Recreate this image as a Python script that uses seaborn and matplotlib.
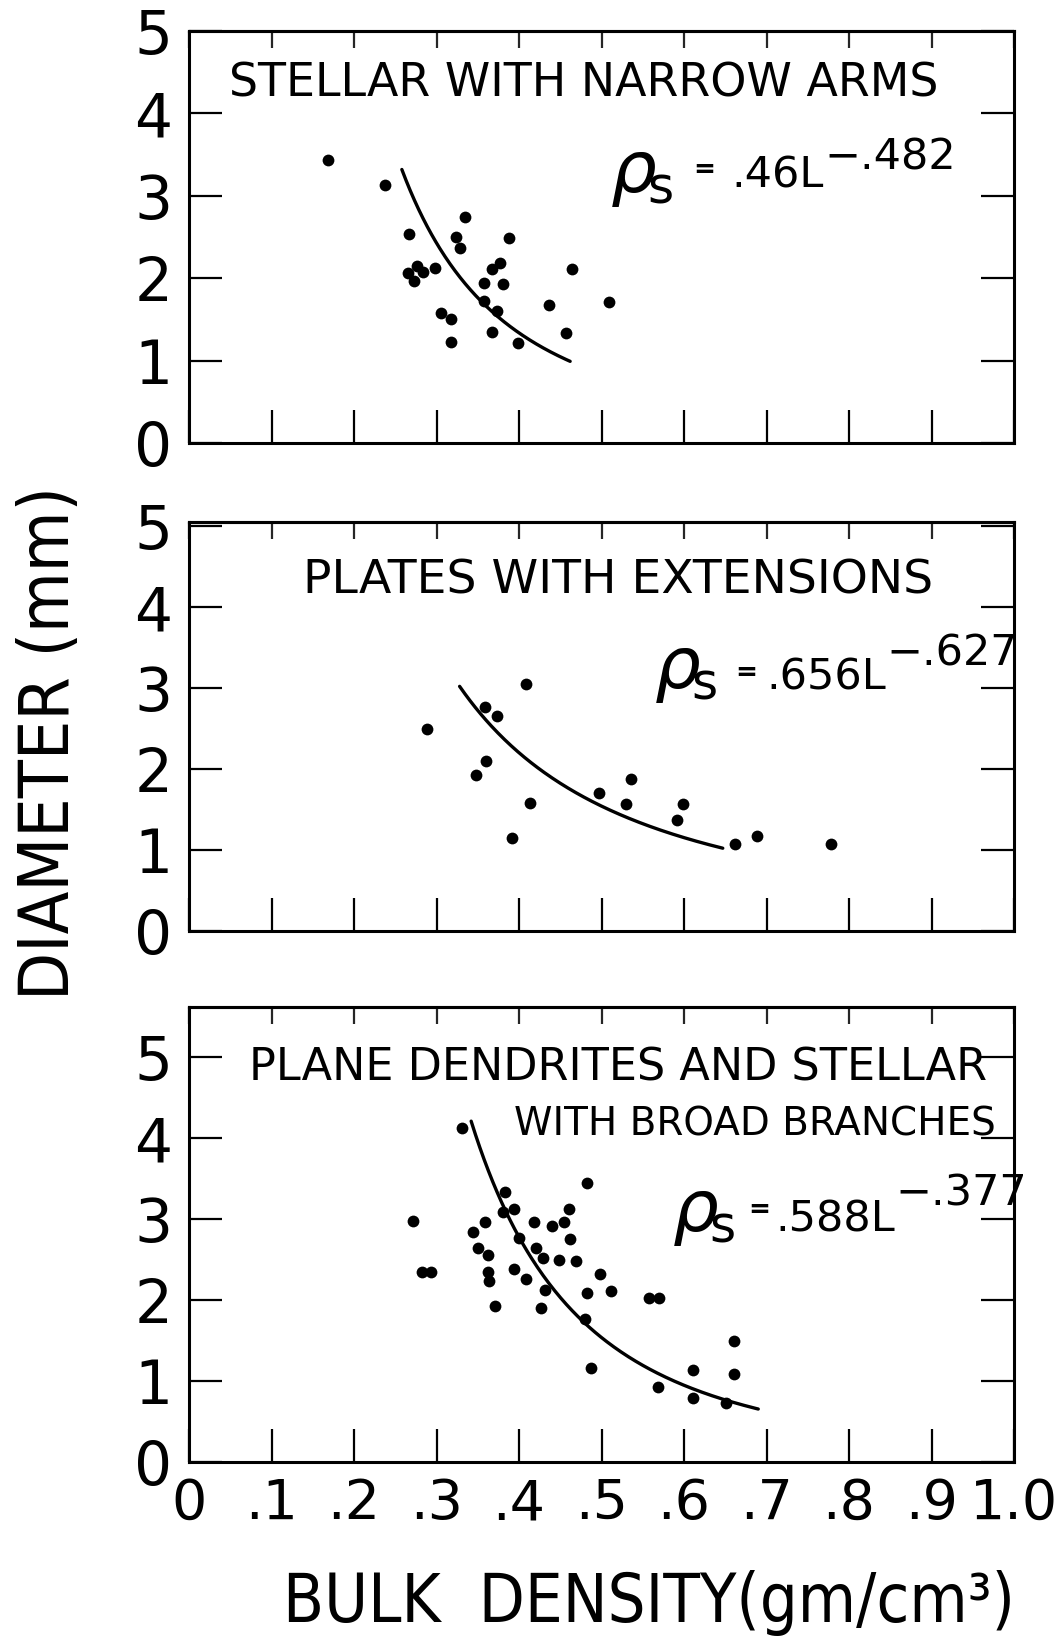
import os
import numpy as np
import pandas as pd
import matplotlib
matplotlib.use("Agg")
import matplotlib.pyplot as plt
from matplotlib import font_manager as fm
from matplotlib.font_manager import FontProperties
import seaborn as sns

# ---------------- data ----------------
stellar_density = [0.168, 0.238, 0.267, 0.334, 0.324, 0.328, 0.388, 0.265, 0.276, 0.273,
                   0.284, 0.298, 0.377, 0.367, 0.358, 0.381, 0.464, 0.357, 0.373, 0.306,
                   0.318, 0.436, 0.509, 0.367, 0.318, 0.399, 0.457]
stellar_diameter = [3.44, 3.13, 2.54, 2.74, 2.50, 2.37, 2.49, 2.06, 2.15, 1.96,
                    2.08, 2.12, 2.19, 2.11, 1.94, 1.93, 2.11, 1.72, 1.60, 1.58,
                    1.50, 1.67, 1.71, 1.35, 1.23, 1.21, 1.33]

plates_density = [0.289, 0.409, 0.359, 0.373, 0.360, 0.348, 0.413, 0.391, 0.497, 0.536,
                  0.530, 0.599, 0.591, 0.662, 0.689, 0.778]
plates_diameter = [2.49, 3.05, 2.77, 2.65, 2.10, 1.92, 1.58, 1.15, 1.70, 1.88,
                   1.57, 1.57, 1.37, 1.07, 1.17, 1.08]

dendrite_density = [0.331, 0.272, 0.282, 0.293, 0.344, 0.359, 0.350, 0.363, 0.362, 0.364,
                    0.371, 0.383, 0.381, 0.394, 0.418, 0.400, 0.421, 0.429, 0.394, 0.408,
                    0.432, 0.427, 0.440, 0.454, 0.460, 0.462, 0.449, 0.469, 0.483, 0.498,
                    0.482, 0.512, 0.480, 0.487, 0.558, 0.570, 0.568, 0.611, 0.611, 0.651,
                    0.660, 0.660]
dendrite_diameter = [4.12, 2.98, 2.35, 2.35, 2.84, 2.96, 2.64, 2.56, 2.35, 2.23,
                     1.93, 3.33, 3.09, 3.13, 2.97, 2.77, 2.64, 2.52, 2.38, 2.26,
                     2.12, 1.90, 2.91, 2.97, 3.13, 2.75, 2.50, 2.48, 3.45, 2.32,
                     2.09, 2.11, 1.77, 1.16, 2.03, 2.02, 0.93, 1.14, 0.79, 0.73,
                     1.50, 1.09]

panel_titles = [["STELLAR WITH NARROW ARMS"],
                ["PLATES WITH EXTENSIONS"],
                ["PLANE DENDRITES AND STELLAR", "WITH BROAD BRANCHES"]]
fit_coef = [0.46, 0.656, 0.588]          # rho_s = a * L^b
fit_exp = [-0.482, -0.627, -0.377]
fit_coef_text = [".46L", ".656L", ".588L"]
fit_exp_text = ["\u2212.482", "\u2212.627", "\u2212.377"]
fit_density_range = [(0.258, 0.462), (0.328, 0.647), (0.342, 0.690)]

x_ticks = [0.0, 0.1, 0.2, 0.3, 0.4, 0.5, 0.6, 0.7, 0.8, 0.9, 1.0]
x_ticklabels = ["0", ".1", ".2", ".3", ".4", ".5", ".6", ".7", ".8", ".9", "1.0"]
y_ticks = [0, 1, 2, 3, 4, 5]
y_ticklabels = ["0", "1", "2", "3", "4", "5"]

# ---------------- style ----------------
sns.set_style("ticks")
plt.rcParams["font.family"] = ["DejaVu Sans"]
plt.rcParams["mathtext.fontset"] = "dejavusans"


def find_narrow():
    for f in fm.fontManager.ttflist:
        if f.name == "Liberation Sans Narrow" and f.style == "normal" and f.weight in (400, "normal", "regular"):
            return f.fname, "lib"
    for f in fm.fontManager.ttflist:
        b = os.path.basename(f.fname)
        if b == "DejaVuSansCondensed.ttf":
            return f.fname, "djc"
    return None, "dj"


narrow_path, narrow_kind = find_narrow()


def narrow_font(size_lib, size_djc, size_dj):
    if narrow_kind == "lib":
        return FontProperties(fname=narrow_path, size=size_lib)
    if narrow_kind == "djc":
        return FontProperties(fname=narrow_path, size=size_djc)
    return FontProperties(family="DejaVu Sans", size=size_dj)


W, H = 1059, 1647
fig = plt.figure(figsize=(W / 100, H / 100), dpi=100)
fig.patch.set_facecolor("white")


def fx(x):
    return x / W


def fy(y):
    return 1 - y / H


# panel pixel boxes: (top, bottom, ytop)
boxes = [(31, 443, 5.0), (522, 931, 5.05), (1007, 1462, 5.62)]
LEFT, RIGHT = 189, 1014

datasets = [(stellar_density, stellar_diameter),
            (plates_density, plates_diameter),
            (dendrite_density, dendrite_diameter)]

axes = []
for i, ((top, bottom, ytop), (dens, diam)) in enumerate(zip(boxes, datasets)):
    ax = fig.add_axes([fx(LEFT), fy(bottom), (RIGHT - LEFT) / W, (bottom - top) / H])
    axes.append(ax)
    df = pd.DataFrame({"density": dens, "diameter": diam})
    sns.scatterplot(data=df, x="density", y="diameter", ax=ax, color="black",
                    s=72, linewidth=0, zorder=3)
    # fitted curve rho_s = a L^b  ->  L = (rho_s / a)^(1/b)
    lo, hi = fit_density_range[i]
    rho = np.linspace(lo, hi, 200)
    L = (rho / fit_coef[i]) ** (1.0 / fit_exp[i])
    sns.lineplot(x=rho, y=L, ax=ax, color="black", lw=2.4, sort=False,
                 estimator=None, zorder=2)

    ax.set_xlim(0, 1.0)
    ax.set_ylim(0, ytop)
    ax.set_xticks(x_ticks)
    ax.set_yticks(y_ticks)
    ax.set_yticklabels(y_ticklabels)
    if i == 2:
        ax.set_xticklabels(x_ticklabels)
    else:
        ax.set_xticklabels([])
    ax.set_xlabel("")
    ax.set_ylabel("")
    ax.tick_params(axis="x", direction="in", length=24, width=1.6, bottom=True,
                   top=False, labelsize=40, pad=11, colors="black")
    ax.tick_params(axis="y", direction="in", length=24, width=1.6, left=True,
                   right=True, labelsize=43, pad=12, colors="black")
    sec = ax.secondary_xaxis("top")
    sec.set_xticks(x_ticks)
    sec.tick_params(axis="x", direction="in", length=12, width=1.6, labeltop=False)
    for sp in list(ax.spines.values()) + list(sec.spines.values()):
        sp.set_linewidth(2.2)
        sp.set_color("black")
    ax.set_facecolor("white")

# ---------------- panel titles ----------------
title_spec = [
    [(584, 84, 33)],
    [(618, 581, 34)],
    [(618, 1068, 32), (755, 1124, 28)],
]
for lines, specs in zip(panel_titles, title_spec):
    for txt, (cx, cy, size) in zip(lines, specs):
        fig.text(fx(cx), fy(cy), txt, ha="center", va="center", fontsize=size,
                 color="black", family="DejaVu Sans")

# ---------------- fit equations ----------------
# (rho left, rho baseline, '=' x, '=' y, main left, main baseline, sup offset)
eq_pos = [
    (610, 192, 704, 170, 731, 188, 28),
    (654, 688, 746, 673, 766, 690, 33),
    (672, 1231, 759, 1210, 775, 1232, 35),
]
for i, (rx, ry, ex, ey, mx, my, so) in enumerate(eq_pos):
    fig.text(fx(rx), fy(ry), r"$\rho_{\!\mathsf{s}}$", fontsize=52, ha="left",
             va="baseline", color="black")
    fig.text(fx(ex), fy(ey), "=", fontsize=19, ha="center", va="center", color="black",
             fontweight="bold")
    main = fig.text(fx(mx), fy(my), fit_coef_text[i], fontsize=31, ha="left",
                    va="baseline", color="black")
    sup = matplotlib.text.Annotation(
        fit_exp_text[i], xy=(1, 0), xycoords=main, xytext=(1, so),
        textcoords="offset pixels", fontsize=31, ha="left", va="baseline",
        color="black")
    sup.set_figure(fig)
    fig.texts.append(sup)

# ---------------- axis labels ----------------
fig.text(fx(50), fy(743), "DIAMETER (mm)", rotation=90, ha="center", va="center",
         color="black", fontproperties=narrow_font(58, 50, 45))
fig.text(fx(649), fy(1603), "BULK  DENSITY(gm/cm\u00b3)", ha="center", va="center",
         color="black", fontproperties=narrow_font(55, 48, 43))

fig.savefig("out.png", dpi=100, facecolor="white")
